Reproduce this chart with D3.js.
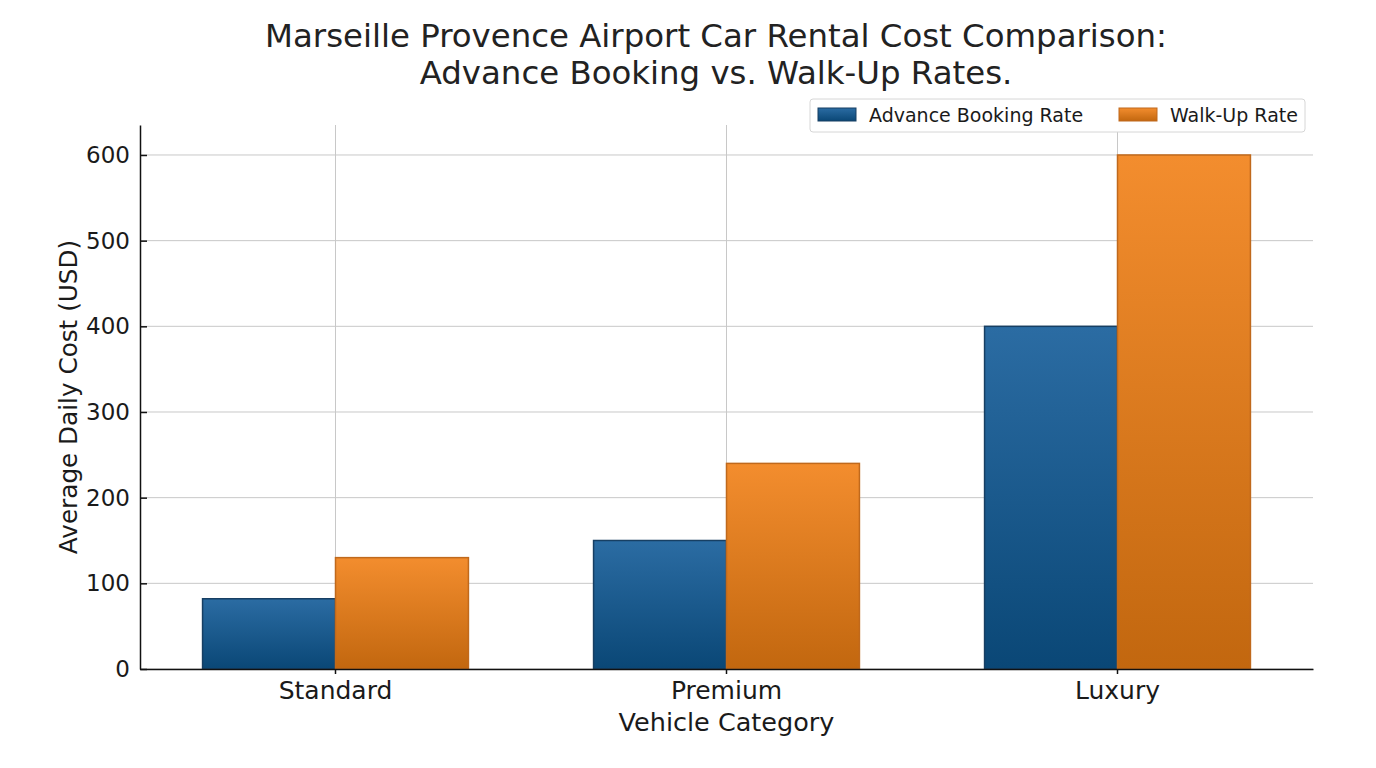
<!DOCTYPE html>
<html>
<head>
<meta charset="utf-8">
<script src="https://cdn.jsdelivr.net/npm/d3@7"></script>
<style>
  body { margin: 0; background: #fff; }
  svg { font-family: 'DejaVu Sans', sans-serif; }
</style>
</head>
<body>
<svg id="chart" width="1376" height="768"></svg>
<script>
const categories = ['Standard', 'Premium', 'Luxury'];
const seriesNames = ['Advance Booking Rate', 'Walk-Up Rate'];
const advanceRates = [82, 150, 400];
const walkUpRates = [130, 240, 600];
const yTicks = [0, 100, 200, 300, 400, 500, 600];

const width = 1376;
const height = 768;
const margin = { top: 125, right: 63, bottom: 99, left: 140 };

const svg = d3.select('#chart');

// gradients for the bars
const defs = svg.append('defs');
const grads = [
  { id: 'gBlue', top: '#2b6ca3', bottom: '#0a4776' },
  { id: 'gOrange', top: '#f38d2e', bottom: '#c2670f' },
];
grads.forEach((g) => {
  const lg = defs.append('linearGradient')
    .attr('id', g.id)
    .attr('x1', 0).attr('y1', 0).attr('x2', 0).attr('y2', 1);
  lg.append('stop').attr('offset', '0%').attr('stop-color', g.top);
  lg.append('stop').attr('offset', '100%').attr('stop-color', g.bottom);
});
const fills = ['url(#gBlue)', 'url(#gOrange)'];
const strokes = ['#173f63', '#c0691c'];

const x = d3.scaleBand()
  .domain(categories)
  .range([margin.left, width - margin.right])
  .paddingInner(0.32)
  .paddingOuter(0.16);

const xSub = d3.scaleBand()
  .domain(seriesNames)
  .range([0, x.bandwidth()]);

const y = d3.scaleLinear()
  .domain([0, 635])
  .range([height - margin.bottom, margin.top]);

// grid
svg.append('g')
  .selectAll('line')
  .data(yTicks)
  .join('line')
  .attr('x1', margin.left)
  .attr('x2', width - margin.right)
  .attr('y1', (d) => y(d))
  .attr('y2', (d) => y(d))
  .attr('stroke', '#c8c8c8')
  .attr('stroke-width', 1);

svg.append('g')
  .selectAll('line')
  .data(categories)
  .join('line')
  .attr('x1', (d) => x(d) + x.bandwidth() / 2)
  .attr('x2', (d) => x(d) + x.bandwidth() / 2)
  .attr('y1', margin.top)
  .attr('y2', height - margin.bottom)
  .attr('stroke', '#c8c8c8')
  .attr('stroke-width', 1);

// bars
const rows = categories.map((c, i) => ({
  category: c,
  values: [advanceRates[i], walkUpRates[i]],
}));

const groups = svg.append('g')
  .selectAll('g')
  .data(rows)
  .join('g')
  .attr('transform', (d) => `translate(${x(d.category)},0)`);

groups.selectAll('rect')
  .data((d) => d.values.map((v, j) => ({ series: seriesNames[j], value: v, j })))
  .join('rect')
  .attr('x', (d) => xSub(d.series))
  .attr('y', (d) => y(d.value))
  .attr('width', xSub.bandwidth())
  .attr('height', (d) => y(0) - y(d.value))
  .attr('fill', (d) => fills[d.j])
  .attr('stroke', (d) => strokes[d.j])
  .attr('stroke-width', 1.5);

// axes
const yAxis = svg.append('g')
  .attr('transform', `translate(${margin.left},0)`)
  .call(d3.axisLeft(y).tickValues(yTicks).tickSizeInner(-7).tickSizeOuter(0).tickPadding(10));
yAxis.select('.domain').attr('stroke', '#111').attr('stroke-width', 1.5);
yAxis.selectAll('.tick line').attr('stroke', '#111').attr('stroke-width', 1.5);
yAxis.selectAll('.tick text')
  .attr('font-size', 23)
  .attr('fill', '#1a1a1a')
  .attr('font-family', 'DejaVu Sans');

const xAxis = svg.append('g')
  .attr('transform', `translate(0,${height - margin.bottom})`)
  .call(d3.axisBottom(x).tickSizeInner(5).tickSizeOuter(0).tickPadding(7));
xAxis.select('.domain').attr('stroke', '#111').attr('stroke-width', 1.5);
xAxis.selectAll('.tick line').attr('stroke', '#111').attr('stroke-width', 1.5);
xAxis.selectAll('.tick text')
  .attr('font-size', 25)
  .attr('fill', '#1a1a1a')
  .attr('font-family', 'DejaVu Sans');

// axis titles
svg.append('text')
  .attr('x', (margin.left + width - margin.right) / 2)
  .attr('y', 731)
  .attr('text-anchor', 'middle')
  .attr('font-size', 25.5)
  .attr('fill', '#1a1a1a')
  .text('Vehicle Category');

svg.append('text')
  .attr('transform', `translate(77,${(margin.top + height - margin.bottom) / 2}) rotate(-90)`)
  .attr('text-anchor', 'middle')
  .attr('font-size', 24.7)
  .attr('fill', '#1a1a1a')
  .text('Average Daily Cost (USD)');

// title
const title = svg.append('text')
  .attr('text-anchor', 'middle')
  .attr('font-size', 32.4)
  .attr('fill', '#222');
title.append('tspan').attr('x', 716).attr('y', 47)
  .text('Marseille Provence Airport Car Rental Cost Comparison:');
title.append('tspan').attr('x', 716).attr('y', 84)
  .text('Advance Booking vs. Walk-Up Rates.');

// legend
const legend = svg.append('g').attr('transform', 'translate(810,99)');
legend.append('rect')
  .attr('width', 495).attr('height', 33)
  .attr('rx', 3)
  .attr('fill', '#fff')
  .attr('stroke', '#d6d6d6');
const legendX = [8, 309];
seriesNames.forEach((name, i) => {
  legend.append('rect')
    .attr('x', legendX[i]).attr('y', 9)
    .attr('width', 38).attr('height', 13)
    .attr('fill', fills[i])
    .attr('stroke', strokes[i]);
  legend.append('text')
    .attr('x', legendX[i] + 51).attr('y', 23)
    .attr('font-size', 19)
    .attr('fill', '#1a1a1a')
    .text(name);
});
</script>
</body>
</html>
